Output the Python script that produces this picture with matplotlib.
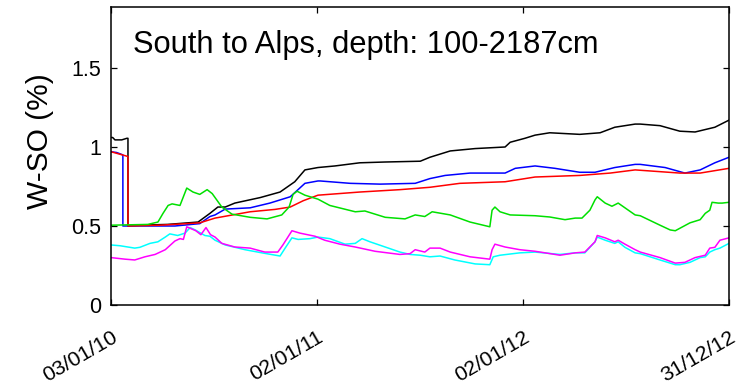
import numpy as np
import matplotlib
matplotlib.use("Agg")
import matplotlib.pyplot as plt
from matplotlib.transforms import ScaledTranslation

plt.rcParams['font.family'] = ['Liberation Sans', 'DejaVu Sans']

start_date = np.datetime64('2010-01-03')
tick_dates = ['2010-01-03', '2011-01-02', '2012-01-02', '2012-12-31']
tick_labels = ['03/01/10', '02/01/11', '02/01/12', '31/12/12']
y_ticks = [0, 0.5, 1, 1.5]
y_tick_labels = ['0', '0.5', '1', '1.5']
title_text = 'South to Alps, depth: 100-2187cm'
y_label = 'W-SO (%)'

# Soil-water series: day offsets from 03/01/10 and W-SO values (%)
black_days = [0, 3, 7, 19, 28, 30, 30, 50, 100, 154, 175, 189, 202, 219, 264, 299, 325, 343,
              366, 396, 440, 485, 547, 564, 600, 644, 697, 706, 732, 750, 776, 829, 865, 891,
              927, 936, 971, 1006, 1033, 1068, 1093]
black_vals = [1.06, 1.06, 1.045, 1.045, 1.055, 1.055, 0.5, 0.505, 0.51, 0.525, 0.58, 0.62,
              0.62, 0.645, 0.68, 0.715, 0.78, 0.855, 0.87, 0.88, 0.9, 0.905, 0.91, 0.935,
              0.975, 0.99, 1.0, 1.03, 1.055, 1.075, 1.09, 1.08, 1.09, 1.125, 1.145, 1.145,
              1.135, 1.10, 1.095, 1.125, 1.17]

blue_days = [0, 10, 21, 21, 78, 113, 157, 175, 184, 202, 246, 281, 317, 343, 366, 370, 423,
             476, 538, 564, 591, 635, 697, 715, 750, 785, 829, 856, 891, 927, 936, 980, 1015,
             1042, 1068, 1093]
blue_vals = [0.97, 0.965, 0.95, 0.5, 0.5, 0.5, 0.515, 0.56, 0.57, 0.607, 0.615, 0.645, 0.685,
             0.77, 0.785, 0.785, 0.77, 0.765, 0.77, 0.8, 0.82, 0.835, 0.835, 0.865, 0.88,
             0.865, 0.84, 0.84, 0.87, 0.89, 0.89, 0.87, 0.835, 0.855, 0.9, 0.935]

red_days = [0, 10, 30, 30, 87, 157, 184, 246, 290, 317, 340, 366, 440, 511, 564, 617, 697,
            750, 829, 883, 927, 1006, 1042, 1093]
red_vals = [0.97, 0.96, 0.94, 0.5, 0.505, 0.52, 0.55, 0.59, 0.605, 0.62, 0.66, 0.695, 0.715,
            0.73, 0.745, 0.77, 0.78, 0.81, 0.82, 0.835, 0.855, 0.835, 0.835, 0.865]

green_days = [0, 65, 83, 92, 101, 108, 122, 134, 145, 157, 170, 179, 196, 214, 246, 276, 302,
              315, 322, 329, 343, 366, 387, 432, 449, 485, 520, 538, 555, 568, 600, 635, 670,
              674, 679, 688, 706, 750, 776, 803, 821, 833, 847, 856, 860, 874, 886, 897, 909,
              927, 936, 971, 989, 998, 1024, 1042, 1051, 1059, 1063, 1074, 1081, 1093]
green_vals = [0.505, 0.51, 0.525, 0.58, 0.63, 0.64, 0.63, 0.74, 0.715, 0.7, 0.73, 0.705, 0.62,
              0.575, 0.555, 0.545, 0.57, 0.62, 0.7, 0.72, 0.695, 0.67, 0.63, 0.59, 0.595,
              0.555, 0.545, 0.57, 0.56, 0.59, 0.57, 0.525, 0.495, 0.6, 0.62, 0.59, 0.57,
              0.565, 0.557, 0.54, 0.55, 0.55, 0.6, 0.665, 0.685, 0.645, 0.625, 0.645, 0.615,
              0.57, 0.565, 0.505, 0.475, 0.47, 0.52, 0.54, 0.58, 0.6, 0.65, 0.645, 0.645, 0.65]

cyan_days = [0, 16, 42, 51, 69, 83, 96, 104, 118, 131, 140, 149, 166, 175, 184, 202, 237, 267,
             299, 308, 320, 331, 352, 366, 387, 414, 432, 444, 458, 485, 511, 529, 547, 564,
             582, 608, 644, 670, 676, 688, 723, 750, 794, 821, 838, 856, 860, 874, 891, 897,
             909, 927, 936, 971, 998, 1006, 1024, 1042, 1051, 1059, 1068, 1077, 1093]
cyan_vals = [0.38, 0.375, 0.36, 0.365, 0.39, 0.4, 0.43, 0.45, 0.44, 0.455, 0.49, 0.475, 0.44,
             0.435, 0.41, 0.38, 0.35, 0.33, 0.31, 0.36, 0.425, 0.415, 0.42, 0.43, 0.42, 0.385,
             0.39, 0.42, 0.4, 0.367, 0.335, 0.32, 0.315, 0.305, 0.31, 0.285, 0.26, 0.255,
             0.305, 0.315, 0.33, 0.335, 0.32, 0.33, 0.33, 0.4, 0.43, 0.41, 0.39, 0.4, 0.365,
             0.33, 0.325, 0.285, 0.255, 0.255, 0.27, 0.3, 0.305, 0.335, 0.35, 0.36, 0.39]

magenta_days = [0, 25, 42, 60, 78, 96, 113, 122, 128, 134, 150, 159, 168, 176, 184, 196, 219,
                246, 272, 295, 304, 320, 334, 361, 378, 405, 432, 467, 511, 529, 538, 555, 564,
                582, 600, 635, 670, 674, 679, 697, 723, 750, 768, 794, 821, 838, 856, 860, 874,
                891, 897, 909, 927, 936, 971, 998, 1015, 1033, 1051, 1059, 1068, 1077, 1093]
magenta_vals = [0.30, 0.29, 0.285, 0.305, 0.32, 0.35, 0.405, 0.42, 0.415, 0.495, 0.47, 0.445,
                0.49, 0.445, 0.43, 0.39, 0.367, 0.36, 0.335, 0.335, 0.38, 0.47, 0.455, 0.435,
                0.41, 0.385, 0.367, 0.34, 0.32, 0.325, 0.35, 0.335, 0.36, 0.36, 0.335, 0.305,
                0.29, 0.35, 0.385, 0.367, 0.35, 0.34, 0.33, 0.315, 0.33, 0.335, 0.4, 0.44, 0.425,
                0.4, 0.41, 0.385, 0.35, 0.335, 0.3, 0.265, 0.27, 0.3, 0.315, 0.36, 0.365, 0.41,
                0.425]

series = [
    (black_days, black_vals, '#000000'),
    (blue_days, blue_vals, '#0000ff'),
    (red_days, red_vals, '#ff0000'),
    (green_days, green_vals, '#00e000'),
    (cyan_days, cyan_vals, '#00ffff'),
    (magenta_days, magenta_vals, '#ff00ff'),
]


def to_dates(days):
    return start_date + np.array(days, dtype='timedelta64[D]')


fig = plt.figure(figsize=(7.41, 3.91), dpi=100)
ax = fig.add_axes([111 / 741, 86 / 391, 618 / 741, 298 / 391])

for days, vals, color in series:
    ax.plot(to_dates(days), vals, color=color, lw=1.1)

ax.set_xlim(np.datetime64(tick_dates[0]), np.datetime64(tick_dates[-1]))
ax.set_ylim(0, 1.886)

ax.set_xticks([np.datetime64(d) for d in tick_dates])
ax.set_xticklabels(tick_labels, rotation=30, ha='right', rotation_mode='anchor',
                   fontsize=15.3)
# nudge the slanted date labels slightly left
shift = ScaledTranslation(-4 / 100, 0, fig.dpi_scale_trans)
for lbl in ax.get_xticklabels():
    lbl.set_transform(lbl.get_transform() + shift)

ax.set_yticks(y_ticks)
ax.set_yticklabels(y_tick_labels, fontsize=15.5)

ax.tick_params(axis='both', direction='in', length=4.5, width=0.9,
               top=True, right=True)
ax.tick_params(axis='x', pad=16)
ax.tick_params(axis='y', pad=7)

for sp in ax.spines.values():
    sp.set_linewidth(1.1)
    sp.set_color('black')

ax.set_ylabel(y_label, fontsize=21.5)
ax.yaxis.set_label_coords(-0.092, 0.55)
ax.text(22 / 618, 1 - 38 / 298, title_text, transform=ax.transAxes,
        fontsize=22.2, ha='left', va='center')

fig.savefig('out.png', dpi=100)
